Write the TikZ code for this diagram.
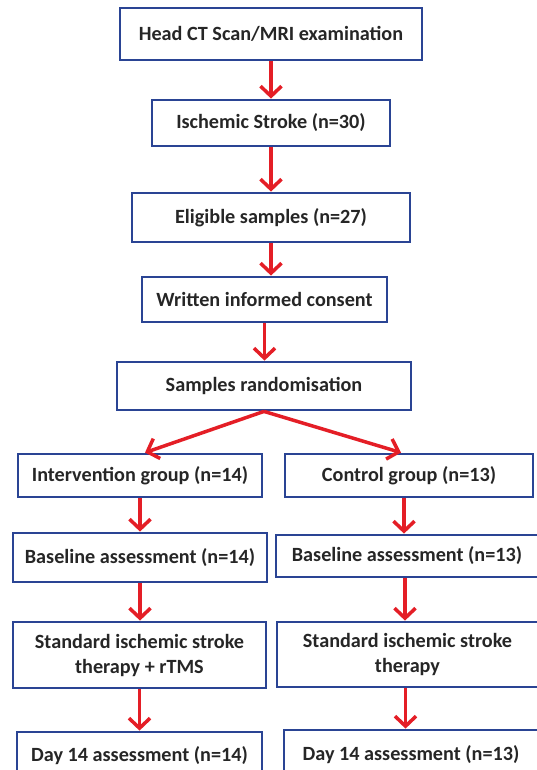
\documentclass[tikz,border=0pt]{standalone}
\usepackage{fontspec}
\setmainfont{Carlito}
\usepackage{tikz}
\usetikzlibrary{arrows.meta}

\definecolor{boxblue}{RGB}{42,68,148}
\definecolor{arrred}{RGB}{228,30,38}

\begin{document}
\begin{tikzpicture}[x=1pt,y=-1pt,
		box/.style={draw=boxblue, line width=2.8pt, fill=white, inner sep=0pt, align=center,
			font=\fontsize{20.2}{25}\selectfont\bfseries, text=black!85},
		arr/.style={draw=arrred, line width=3.5pt, -{Straight Barb[length=10pt,width=21pt]}}]
				\useasboundingbox (0,0) rectangle (536,770);
				\node[box, minimum width=302pt, minimum height=52pt] (head) at (271,34) {Head CT Scan/MRI examination};
				\node[box, minimum width=238pt, minimum height=46pt] (isch) at (271,123) {Ischemic Stroke (n=30)};
				\node[box, minimum width=278pt, minimum height=49pt] (elig) at (271,217.5) {Eligible samples (n=27)};
				\node[box, minimum width=245pt, minimum height=45pt] (cons) at (264.5,299.5) {Written informed consent};
				\node[box, minimum width=294pt, minimum height=48pt] (rand) at (264,386) {Samples randomisation};
				\node[box, minimum width=244pt, minimum height=43pt] (intv) at (140,475.5) {Intervention group (n=14)};
				\node[box, minimum width=248pt, minimum height=43pt] (ctrl) at (409,475.5) {Control group (n=13)};
				\node[box, minimum width=254pt, minimum height=49pt] (baseL) at (140,557.5) {Baseline assessment (n=14)};
				\node[box, minimum width=262pt, minimum height=42pt] (baseR) at (407,556) {Baseline assessment (n=13)};
				\node[box, minimum width=253pt, minimum height=66pt] (stdL) at (139.5,655) {Standard ischemic stroke\\therapy + rTMS};
				\node[box, minimum width=261pt, minimum height=65pt] (stdR) at (407.5,654.5) {Standard ischemic stroke\\therapy};
				\node[box, minimum width=245pt, minimum height=48pt] (dayL) at (139.5,756) {Day 14 assessment (n=14)};
				\node[box, minimum width=254pt, minimum height=50pt] (dayR) at (411,755) {Day 14 assessment (n=13)};
				% arrows
				\draw[arr] (head) -- (isch);
				\draw[arr] (isch) -- (elig);
				\draw[arr] (elig.south) -- (elig.south |- cons.north);
				\draw[arr] (cons.south) -- (cons.south |- rand.north);
				\draw[arr] (rand.south) -- ([xshift=5pt]intv.north);
				\draw[arr] (rand.south) -- ([xshift=-8pt]ctrl.north);
				\draw[arr] (intv) -- (baseL);
				\draw[arr] ([xshift=-5pt]ctrl.south) -- ([xshift=-5pt]ctrl.south |- baseR.north);
				\draw[arr] (baseL) -- (stdL.north -| baseL);
				\draw[arr] ([xshift=-2pt]baseR.south) -- ([xshift=-2pt]baseR.south |- stdR.north);
				\draw[arr] (stdL) -- (dayL.north -| stdL);
				\draw[arr] ([xshift=-2pt]stdR.south) -- ([xshift=-2pt]stdR.south |- dayR.north);
			\end{tikzpicture}
\end{document}
